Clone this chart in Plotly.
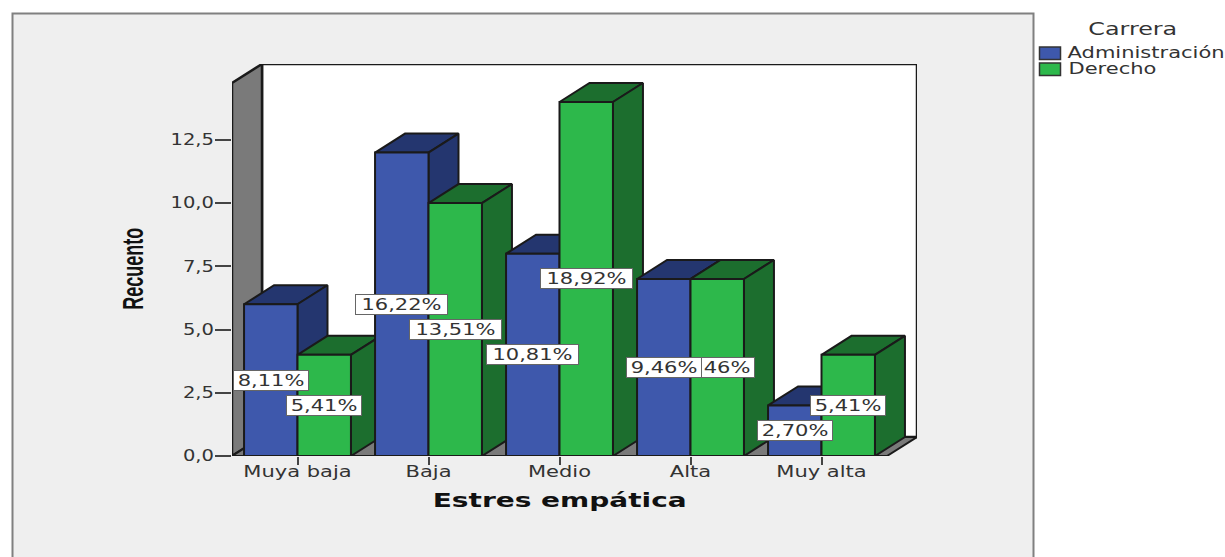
import plotly.graph_objects as go

categories = ["Muya baja", "Baja", "Medio", "Alta", "Muy alta"]
admin = [6, 12, 8, 7, 2]
derecho = [4, 10, 14, 7, 4]
admin_labels = ["8,11%", "16,22%", "10,81%", "9,46%", "2,70%"]
derecho_labels = ["5,41%", "13,51%", "18,92%", "9,46%", "5,41%"]
y_ticks = [0, 2.5, 5, 7.5, 10, 12.5]

W, H = 1225, 557
BW = 0.408
DX, DY = 0.229, 0.7516
XMIN, XMAX = -0.5, 4.5
YTOP = 14.75
BLUE, BLUE_D = "#3E58AC", "#24366F"
GREEN, GREEN_D = "#2DB84B", "#1C6E2E"
EDGE = "#1a1a1a"
TXT = "#333333"
FONT = "DejaVu Sans"

fig = go.Figure()

def poly(xs, ys, color, width=2):
    fig.add_trace(go.Scatter(x=xs + xs[:1], y=ys + ys[:1], mode="lines", fill="toself",
                             fillcolor=color, line=dict(color=EDGE, width=width),
                             hoverinfo="skip", showlegend=False))

# walls
poly([XMIN + DX, XMAX + DX, XMAX + DX, XMIN + DX], [DY, DY, YTOP + DY, YTOP + DY], "#FFFFFF", 2.5)
poly([XMIN, XMIN + DX, XMIN + DX, XMIN], [0, DY, YTOP + DY, YTOP], "#7A7A7A", 2.5)
poly([XMIN, XMAX, XMAX + DX, XMIN + DX], [0, 0, DY, DY], "#7A7A7A", 2)

# depth faces
for i in range(len(categories)):
    for v, l, top, side in ((admin[i], i - BW, BLUE_D, BLUE_D), (derecho[i], i, GREEN_D, GREEN_D)):
        r = l + BW
        poly([l, r, r + DX, l + DX], [v, v, v + DY, v + DY], top)
        poly([r, r, r + DX, r + DX], [0, v, v + DY, DY], side)

# front faces
idx = list(range(len(categories)))
for name, vals, col in (("Administración", admin, BLUE), ("Derecho", derecho, GREEN)):
    fig.add_trace(go.Bar(x=idx, y=vals, name=name, marker=dict(color=col, line=dict(color=EDGE, width=2)),
                         xaxis="x2", yaxis="y2", showlegend=False))

# value labels (left-hand series on top)
def labels(vals, texts, off):
    for i, (v, t) in enumerate(zip(vals, texts)):
        fig.add_annotation(x=i + off, y=v / 2, xref="x", yref="y", text=t, showarrow=False,
                           font=dict(family=FONT, size=15, color=TXT), bgcolor="#FFFFFF",
                           bordercolor="#666666", borderwidth=1, borderpad=1,
                           width=72 if len(t) == 5 else 89, height=17)
labels(derecho, derecho_labels, BW / 2)
labels(admin, admin_labels, -BW / 2)

def ptext(cx, cy, text, size, color=TXT, family=FONT, angle=0):
    fig.add_annotation(x=cx / W, y=1 - cy / H, xref="paper", yref="paper", text=text, showarrow=False,
                       xanchor="center", yanchor="middle", textangle=angle,
                       font=dict(family=family, size=size, color=color))

ptext(559, 500, "<b>Estres empática</b>", 20, "#111111")
ptext(132, 269, "<b>Recuento</b>", 30, "#111111", "Liberation Sans", -90)
# legend
ptext(1132, 29, "Carrera", 17)
ptext(1146, 53, "Administración", 15)
ptext(1112, 69, "Derecho", 15)

def rect(x0, y0, x1, y1, fill, line, lw):
    fig.add_shape(type="rect", xref="paper", yref="paper", x0=x0 / W, x1=x1 / W, y0=1 - y1 / H, y1=1 - y0 / H,
                  fillcolor=fill, line=dict(color=line, width=lw), layer="below")

rect(12.5, 13.5, 1033.5, 590, "#EFEFEF", "#808080", 2)
rect(1039.5, 47, 1060.5, 59.5, BLUE, "#333333", 1.5)
rect(1039.5, 63, 1060.5, 75.5, GREEN, "#333333", 1.5)

dom_x = [232 / W, 917 / W]
dom_y = [1 - 456 / H, 1 - 64 / H]
rx = [XMIN, XMAX + DX]
ry = [0, YTOP + DY]
fig.update_layout(
    width=W, height=H, margin=dict(l=0, r=0, t=0, b=0), autosize=False, showlegend=False,
    paper_bgcolor="#FFFFFF", plot_bgcolor="rgba(0,0,0,0)", separators=",.",
    barmode="group", bargap=1 - 2 * BW, bargroupgap=0,
    font=dict(family=FONT, size=15, color=TXT),
    xaxis=dict(domain=dom_x, range=rx, tickmode="array", tickvals=idx, ticktext=categories, automargin=False,
               ticks="outside", ticklen=8, tickwidth=2, tickcolor="#444444", showgrid=False, zeroline=False,
               showline=False, ticklabelstandoff=-6, tickfont=dict(family=FONT, size=15, color=TXT)),
    yaxis=dict(domain=dom_y, range=ry, tickmode="array", tickvals=y_ticks, tickformat=".1f", automargin=False,
               ticks="outside", ticklen=16, tickwidth=2, tickcolor="#444444", showgrid=False, zeroline=False,
               showline=False, ticklabelstandoff=-2, tickfont=dict(family=FONT, size=15, color=TXT)),
    xaxis2=dict(domain=dom_x, range=rx, overlaying="x", visible=False, anchor="y2", automargin=False),
    yaxis2=dict(domain=dom_y, range=ry, overlaying="y", visible=False, anchor="x2", automargin=False),
)

# the reference's text is stretched sideways: widen the real text glyphs to match
post = """
document.body.style.margin='0';
document.querySelectorAll('.main-svg text').forEach(function(t){
  if(!t.textContent.trim()) return;
  var k=t.closest('.ytick')?1.3:1.4;
  var len=(t.textContent==='Recuento')?82:t.getComputedTextLength()*k;
  t.setAttribute('textLength', len);
  t.setAttribute('lengthAdjust','spacingAndGlyphs');
});
"""
fig.write_html("out.html", post_script=post, config={"displayModeBar": False})
